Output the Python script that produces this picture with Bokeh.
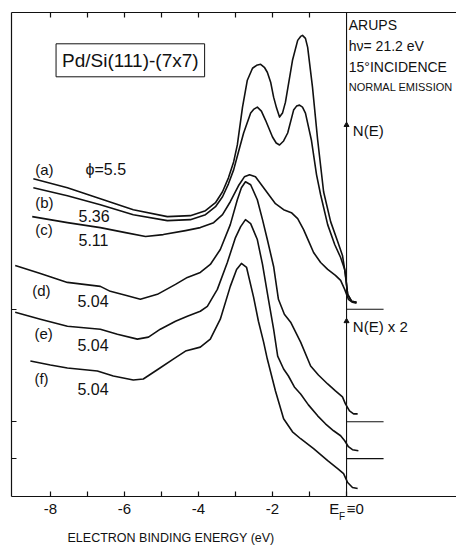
from bokeh.plotting import figure
from bokeh.models import Range1d, LinearAxis, FixedTicker, Label, Span, Title
from bokeh.embed import file_html
from bokeh.resources import INLINE

# ---------------- data (electron binding energy in eV, N(E) in arbitrary units) ----------------
energy_a = [-8.46, -7.54, -6.65, -5.76, -4.84, -4.22, -3.81, -3.54, -3.35, -3.19, -3.05, -2.95, -2.81, -2.68,
            -2.54, -2.43, -2.32, -2.22, -2.14, -2.05, -1.97, -1.89, -1.81, -1.73, -1.65, -1.46, -1.32, -1.24,
            -1.19, -1.11, -1.05, -0.92, -0.78, -0.62, -0.43, -0.24, -0.11, -0.03, 0.03, 0.14, 0.27]
nE_a = [31.9, 31.0, 29.9, 28.8, 28.1, 28.2, 28.7, 29.5, 30.6, 32.0, 33.6, 35.3, 39.1, 41.8,
        43.0, 43.3, 43.4, 43.1, 42.6, 41.6, 40.1, 39.0, 38.1, 38.5, 39.6, 43.8, 45.8, 46.2,
        46.3, 46.0, 45.1, 41.1, 35.8, 30.6, 27.6, 25.6, 24.2, 22.3, 20.3, 19.6, 19.5]

energy_b = [-8.46, -7.54, -6.65, -5.76, -4.84, -4.22, -3.81, -3.54, -3.35, -3.19, -3.05, -2.92, -2.78, -2.59,
            -2.50, -2.41, -2.30, -2.19, -2.00, -1.90, -1.81, -1.70, -1.59, -1.43, -1.35, -1.27, -1.19, -1.11,
            -0.95, -0.81, -0.70, -0.51, -0.32, -0.16, -0.05, 0.03, 0.14, 0.27]
nE_b = [31.0, 30.2, 29.3, 28.3, 27.7, 27.8, 28.3, 29.1, 30.1, 31.4, 32.8, 34.6, 36.5, 38.5,
        38.9, 39.1, 38.7, 37.8, 36.1, 35.5, 35.3, 35.7, 36.5, 38.8, 39.2, 39.3, 39.1, 38.5,
        35.8, 32.3, 30.3, 27.3, 25.3, 24.0, 22.8, 20.3, 19.6, 19.5]

energy_c = [-8.49, -7.54, -6.65, -5.97, -5.43, -4.95, -4.35, -3.95, -3.59, -3.35, -3.14, -2.92, -2.76, -2.62,
            -2.46, -2.30, -2.14, -1.92, -1.70, -1.49, -1.32, -1.16, -1.03, -0.89, -0.70, -0.51, -0.30, -0.16,
            -0.05, 0.05, 0.16, 0.27]
nE_c = [28.1, 27.5, 27.0, 26.5, 26.1, 26.3, 26.7, 27.0, 27.5, 28.3, 29.6, 31.2, 32.1, 32.3,
        32.1, 31.3, 30.5, 29.4, 28.8, 28.5, 27.9, 26.8, 25.7, 24.5, 23.5, 22.8, 22.2, 21.7,
        20.8, 19.8, 19.5, 19.4]

energy_d = [-8.95, -8.27, -7.54, -6.65, -6.38, -5.97, -5.57, -5.11, -4.62, -4.30, -3.95, -3.68, -3.41, -3.14,
            -2.95, -2.84, -2.73, -2.59, -2.41, -2.27, -2.14, -1.97, -1.84, -1.68, -1.51, -1.24, -0.97, -0.76,
            -0.51, -0.30, -0.11, -0.03, 0.08, 0.19, 0.30]
nE_d = [23.2, 22.4, 21.5, 21.1, 20.6, 20.2, 19.8, 20.3, 21.3, 22.0, 22.5, 23.3, 24.8, 27.3,
        29.8, 31.0, 31.6, 31.3, 29.8, 27.8, 25.8, 23.1, 19.8, 18.3, 17.5, 15.5, 13.1, 12.2,
        11.3, 10.6, 10.0, 9.3, 8.6, 8.3, 8.3]

energy_e = [-8.95, -8.27, -7.54, -6.65, -6.19, -5.65, -5.35, -5.03, -4.62, -4.30, -3.95, -3.76, -3.49, -3.22,
            -3.00, -2.86, -2.73, -2.59, -2.41, -2.27, -2.11, -1.97, -1.86, -1.70, -1.57, -1.41, -1.24, -1.03,
            -0.78, -0.57, -0.35, -0.16, -0.05, 0.05, 0.16, 0.32]
nE_e = [18.5, 17.8, 17.1, 16.8, 16.3, 15.8, 16.0, 16.8, 17.6, 18.1, 18.6, 19.1, 20.8, 23.5,
        26.0, 27.1, 27.8, 27.4, 25.8, 23.3, 19.8, 16.8, 14.1, 12.8, 12.1, 11.0, 10.3, 9.2,
        8.1, 7.3, 6.6, 6.1, 5.6, 5.0, 4.7, 4.6]

energy_f = [-8.54, -8.00, -7.54, -6.73, -6.30, -5.76, -5.49, -5.08, -4.68, -4.35, -3.95, -3.68, -3.41, -3.14,
            -2.97, -2.84, -2.70, -2.51, -2.38, -2.24, -2.14, -1.92, -1.70, -1.46, -1.24, -0.89, -0.51, -0.24,
            -0.08, 0.03, 0.16, 0.30]
nE_f = [13.6, 13.2, 12.9, 12.6, 12.1, 11.7, 11.8, 12.8, 13.8, 14.6, 15.0, 15.8, 17.8, 21.1,
        22.8, 23.4, 23.0, 20.0, 17.6, 15.5, 13.8, 10.6, 7.8, 6.5, 5.8, 4.8, 3.6, 2.8,
        2.3, 1.4, 0.9, 0.8]

curve_tags = ["(a)", "(b)", "(c)", "(d)", "(e)", "(f)"]
work_functions = ["\u03d5=5.5", "5.36", "5.11", "5.04", "5.04", "5.04"]
baselines = [18.8, 7.5, 3.8]          # zero levels of the N(E) and N(E)x2 groups
marker_levels = [37.3, 17.6]          # scale markers on the E_F line
marker_texts = ["N(E)", "N(E) x 2"]
x_ticks = [-8, -7, -6, -5, -4, -3, -2, -1, 0]
x_tick_labels = {-8: "-8", -7: "", -6: "-6", -5: "", -4: "-4", -3: "", -2: "-2", -1: "",
                 0: "E\u2002\u22610"}
info_lines = ["ARUPS", "h\u03bd= 21.2 eV", "15\u00b0INCIDENCE", "NORMAL EMISSION"]
x_title = "ELECTRON BINDING ENERGY (eV)"

FONT = "Liberation Sans"
INK = "#111111"

p = figure(width=456, height=548,
           x_range=Range1d(-9.05, 2.97), y_range=Range1d(0, 48.6),
           x_axis_location=None, y_axis_location=None,
           output_backend="svg", toolbar_location=None,
           min_border_left=11, min_border_right=0, min_border_top=12, min_border_bottom=50)
p.outline_line_color = None
p.grid.visible = False
p.background_fill_color = "white"


def style_axis(ax, label_size):
    ax.major_tick_in = 5
    ax.major_tick_out = 0
    ax.minor_tick_line_color = None
    ax.axis_line_color = INK
    ax.axis_line_width = 1.2
    ax.major_tick_line_color = INK
    ax.major_tick_line_width = 1.2
    ax.major_label_text_font = FONT
    ax.major_label_text_font_size = label_size
    ax.major_label_text_color = INK


bottom = LinearAxis(ticker=FixedTicker(ticks=x_ticks), major_label_overrides=x_tick_labels)
style_axis(bottom, "15px")
bottom.major_label_standoff = 3
p.add_layout(bottom, "below")

# subscript "F" of the E_F tick label
sub = LinearAxis(ticker=FixedTicker(ticks=[-0.12]), major_label_overrides={-0.12: "F"})
style_axis(sub, "10px")
sub.axis_line_color = None
sub.major_tick_line_color = None
sub.major_label_standoff = -9
p.add_layout(sub, "below")

p.add_layout(Title(text=x_title, align="left", offset=56, standoff=8,
                   text_font=FONT, text_font_size="12.5px", text_font_style="normal",
                   text_color=INK), "below")

top = LinearAxis(ticker=FixedTicker(ticks=x_ticks[:-1]))
style_axis(top, "0px")
top.major_label_standoff = 0
top.major_label_text_alpha = 0
p.add_layout(top, "above")

left = LinearAxis(ticker=FixedTicker(ticks=baselines))
style_axis(left, "0px")
left.major_label_standoff = 0
left.major_label_text_alpha = 0
p.add_layout(left, "left")

# E_F line
p.add_layout(Span(location=0, dimension="height", line_color=INK, line_width=1.1))

# zero levels to the right of E_F
p.segment(x0=[0] * len(baselines), x1=[1.0] * len(baselines), y0=baselines, y1=baselines,
          line_color=INK, line_width=1.1)
p.scatter(x=[0] * len(marker_levels), y=marker_levels, marker="triangle", size=5,
          fill_color=INK, line_color=INK)

# spectra
for ex, ny in [(energy_a, nE_a), (energy_b, nE_b), (energy_c, nE_c),
               (energy_d, nE_d), (energy_e, nE_e), (energy_f, nE_f)]:
    p.line(ex, ny, line_color=INK, line_width=1.6, line_join="round")

# curve labels
tag_pos = [(-8.41, 32.8), (-8.41, 29.5), (-8.41, 26.8), (-8.49, 20.7), (-8.43, 16.4), (-8.43, 11.8)]
wf_pos = [(-7.05, 32.8), (-7.24, 28.2), (-7.24, 25.8), (-7.27, 19.6), (-7.27, 15.2), (-7.27, 10.8)]
for t, (x, y) in zip(curve_tags, tag_pos):
    p.add_layout(Label(x=x, y=y, text=t, text_font=FONT, text_font_size="15px",
                       text_baseline="middle", text_align="left", text_color=INK))
for t, (x, y) in zip(work_functions, wf_pos):
    p.add_layout(Label(x=x, y=y, text=t, text_font=FONT, text_font_size="16px",
                       text_baseline="middle", text_align="left", text_color=INK))

# title box
p.add_layout(Label(x=-5.84, y=43.8, text="Pd/Si(111)-(7x7)", text_font=FONT, text_font_size="19px",
                   text_align="center", text_baseline="middle", text_color=INK,
                   border_line_color=INK, border_line_width=1, padding=6))

# experiment info
info_sizes = ["14px", "14px", "14px", "11px"]
for i, (t, s) in enumerate(zip(info_lines, info_sizes)):
    p.add_layout(Label(x=0.06, y=47.3 - 2.07 * i, text=t, text_font=FONT, text_font_size=s,
                       text_align="left", text_baseline="middle", text_color=INK))

for t, y in zip(marker_texts, [36.8, 17.1]):
    p.add_layout(Label(x=0.17, y=y, text=t, text_font=FONT, text_font_size="15px",
                       text_align="left", text_baseline="middle", text_color=INK))

open("out.html", "w").write(file_html(p, INLINE))
